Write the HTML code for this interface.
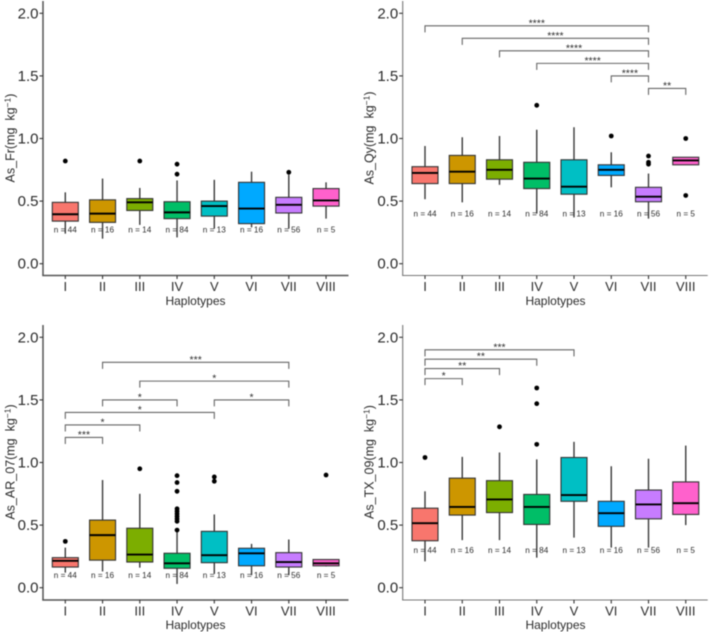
<!DOCTYPE html>
<html>
<head>
<meta charset="utf-8">
<style>
html,body{margin:0;padding:0;background:#fff;}
svg{display:block;filter:blur(0.5px);}
text{font-family:"Liberation Sans",sans-serif;fill:#2b2b2b;}
</style>
</head>
<body>
<svg id="chart" width="709" height="632" viewBox="0 0 709 632" xmlns="http://www.w3.org/2000/svg">
  <rect x="0" y="0" width="709" height="632" fill="#fff"/>
  <g id="panel-fr"></g>
  <g id="panel-qy"></g>
  <g id="panel-ar"></g>
  <g id="panel-tx"></g>

  <text transform="translate(14.5,138) rotate(-90)" text-anchor="middle" font-size="12.5">As_Fr(mg&#160;&#160;kg<tspan dy="-4" font-size="8.5">−1</tspan><tspan dy="4">)</tspan></text>
  <text transform="translate(373.5,138) rotate(-90)" text-anchor="middle" font-size="12.5">As_Qy(mg&#160;&#160;kg<tspan dy="-4" font-size="8.5">−1</tspan><tspan dy="4">)</tspan></text>
  <text transform="translate(14.5,462) rotate(-90)" text-anchor="middle" font-size="12.5">As_AR_07(mg&#160;&#160;kg<tspan dy="-4" font-size="8.5">−1</tspan><tspan dy="4">)</tspan></text>
  <text transform="translate(373.5,462) rotate(-90)" text-anchor="middle" font-size="12.5">As_TX_09(mg&#160;&#160;kg<tspan dy="-4" font-size="8.5">−1</tspan><tspan dy="4">)</tspan></text>

  <text x="195.5" y="305" text-anchor="middle" font-size="12">Haplotypes</text>
  <text x="555.5" y="305" text-anchor="middle" font-size="12">Haplotypes</text>
  <text x="195.5" y="629" text-anchor="middle" font-size="12">Haplotypes</text>
  <text x="555.5" y="629" text-anchor="middle" font-size="12">Haplotypes</text>
</svg>
<script>
const categories = ['I','II','III','IV','V','VI','VII','VIII'];
const counts = ['n = 44','n = 16','n = 14','n = 84','n = 13','n = 16','n = 56','n = 5'];
const yTicks = [0, 0.5, 1, 1.5, 2];
const yTickLabels = ['0.0','0.5','1.0','1.5','2.0'];
const fills = ['#F8766D','#CD9600','#7CAE00','#00BE67','#00BFC4','#00A9FF','#C77CFF','#FF61CC'];

const frLow = [0.24,0.20,0.31,0.21,0.28,0.29,0.28,0.36];
const frQ1 = [0.34,0.33,0.425,0.36,0.38,0.32,0.405,0.46];
const frMedian = [0.395,0.40,0.49,0.41,0.46,0.44,0.47,0.505];
const frQ3 = [0.49,0.51,0.52,0.495,0.50,0.65,0.53,0.60];
const frHigh = [0.57,0.68,0.605,0.665,0.67,0.735,0.71,0.65];
const frOutliers = [[0.82],[],[0.82],[0.795,0.715],[],[],[0.73],[]];
const frBracketFrom = [];
const frBracketTo = [];
const frBracketLevel = [];
const frBracketLabel = [];

const qyLow = [0.515,0.49,0.63,0.40,0.37,0.61,0.36,0.79];
const qyQ1 = [0.64,0.64,0.675,0.60,0.555,0.705,0.495,0.79];
const qyMedian = [0.725,0.735,0.75,0.68,0.615,0.75,0.535,0.825];
const qyQ3 = [0.775,0.865,0.83,0.81,0.83,0.79,0.61,0.85];
const qyHigh = [0.94,1.01,1.02,1.07,1.09,0.89,0.72,0.85];
const qyOutliers = [[],[],[],[1.265],[],[1.02],[0.86,0.81,0.795],[1.0,0.545]];
const qyBracketFrom = [0,1,2,3,5,6];
const qyBracketTo = [6,6,6,6,6,7];
const qyBracketLevel = [1.90,1.80,1.70,1.60,1.50,1.40];
const qyBracketLabel = ['****','****','****','****','****','**'];

const arLow = [0.12,0.13,0.16,0.03,0.11,0.10,0.10,0.17];
const arQ1 = [0.165,0.22,0.205,0.155,0.20,0.175,0.165,0.175];
const arMedian = [0.215,0.42,0.265,0.195,0.26,0.275,0.205,0.195];
const arQ3 = [0.24,0.54,0.475,0.275,0.45,0.315,0.28,0.225];
const arHigh = [0.32,0.86,0.75,0.46,0.585,0.35,0.385,0.225];
const arOutliers = [[0.37],[],[0.95],[0.46,0.53,0.55,0.57,0.59,0.61,0.63,0.77,0.84,0.895],[0.85,0.885],[],[],[0.90]];
const arBracketFrom = [0,0,0,1,4,2,1];
const arBracketTo = [1,2,4,3,6,6,6];
const arBracketLevel = [1.20,1.30,1.40,1.50,1.50,1.65,1.80];
const arBracketLabel = ['***','*','*','*','*','*','***'];

const txLow = [0.21,0.38,0.38,0.24,0.40,0.32,0.32,0.50];
const txQ1 = [0.375,0.58,0.60,0.505,0.69,0.49,0.55,0.585];
const txMedian = [0.515,0.645,0.705,0.645,0.74,0.595,0.665,0.675];
const txQ3 = [0.635,0.875,0.855,0.745,1.04,0.69,0.78,0.845];
const txHigh = [0.77,1.045,1.08,1.025,1.165,0.97,1.03,1.135];
const txOutliers = [[1.04],[],[1.285],[1.145,1.47,1.595],[],[],[],[]];
const txBracketFrom = [0,0,0,0];
const txBracketTo = [4,3,2,1];
const txBracketLevel = [1.90,1.825,1.75,1.67];
const txBracketLabel = ['***','**','**','*'];

const SVGNS = 'http://www.w3.org/2000/svg';
function make(parent, tag, attrs, txt) {
  const n = document.createElementNS(SVGNS, tag);
  for (const k in attrs) n.setAttribute(k, attrs[k]);
  if (txt !== undefined) n.textContent = txt;
  parent.appendChild(n);
  return n;
}

function drawPanel(opt) {
  const g = document.getElementById(opt.id);
  const xOf = i => opt.x0 + i * opt.step;
  const yOf = v => opt.y0 - v * opt.unit;
  const axisColor = opt.axisColor;
  const axisWidth = opt.axisWidth;

  const yAxis = make(g, 'line', {x1:opt.axisX, x2:opt.axisX, y1:opt.top, y2:opt.bottom, stroke:axisColor, 'stroke-width':axisWidth});
  
  
  const xAxis = make(g, 'line', {x1:opt.axisX - axisWidth/2, x2:opt.right, y1:opt.bottom, y2:opt.bottom, stroke:axisColor, 'stroke-width':axisWidth});
  
  

  yTicks.forEach((v, i) => {
    const tick = make(g, 'line', {x1:opt.axisX - 3.5, x2:opt.axisX, y1:yOf(v), y2:yOf(v), stroke:'#333', 'stroke-width':1.1});
    
    
    const label = make(g, 'text', {x:opt.axisX - 4.5, y:yOf(v) + 5, 'text-anchor':'end', 'font-size':15}, yTickLabels[i]);
    
    
  });

  categories.forEach((c, i) => {
    const cx = xOf(i);
    const tick = make(g, 'line', {x1:cx, x2:cx, y1:opt.bottom, y2:opt.bottom + 3.5, stroke:'#333', 'stroke-width':1.1});
    
    
    const label = make(g, 'text', {x:cx, y:opt.bottom + 15.5, 'text-anchor':'middle', 'font-size':13}, c);
    
    

    const whisker = make(g, 'line', {x1:cx, x2:cx, y1:yOf(opt.low[i]), y2:yOf(opt.high[i]), stroke:'#3a3a3a', 'stroke-width':1.4});
    
    

    const box = make(g, 'rect', {x:cx - 13, y:yOf(opt.q3[i]), width:26, height:yOf(opt.q1[i]) - yOf(opt.q3[i]), fill:fills[i], stroke:'#333', 'stroke-width':1.1});
    
    

    const median = make(g, 'line', {x1:cx - 13, x2:cx + 13, y1:yOf(opt.median[i]), y2:yOf(opt.median[i]), stroke:'#000', 'stroke-width':1.9});
    
    

    opt.outliers[i].forEach(v => {
      const dot = make(g, 'circle', {cx:cx, cy:yOf(v), r:2.4, fill:'#000'});
      
      
    });

    const count = make(g, 'text', {x:cx, y:yOf(opt.countLevel) + 3, 'text-anchor':'middle', 'font-size':8.2}, counts[i]);
    
    
  });

  opt.bFrom.forEach((from, i) => {
    const x1 = xOf(from), x2 = xOf(opt.bTo[i]), ly = yOf(opt.bLevel[i]);
    const drop = 6.5;
    const bracket = make(g, 'path', {d:'M' + x1 + ' ' + (ly + drop) + 'V' + ly + 'H' + x2 + 'V' + (ly + drop), fill:'none', stroke:'#666', 'stroke-width':1.1});
    
    
    const stars = make(g, 'text', {x:(x1 + x2) / 2, y:ly + 0.5, 'text-anchor':'middle', 'font-size':10.5}, opt.bLabel[i]);
    
    
  });
}

drawPanel({id:'panel-fr', x0:65.3, step:37.25, y0:263.7, unit:125.2, axisX:43, top:1, bottom:275.5, right:348.5, axisColor:'#555', axisWidth:1.5, countLevel:0.274,
  low:frLow, q1:frQ1, median:frMedian, q3:frQ3, high:frHigh, outliers:frOutliers, bFrom:frBracketFrom, bTo:frBracketTo, bLevel:frBracketLevel, bLabel:frBracketLabel});
drawPanel({id:'panel-qy', x0:425, step:37.25, y0:263.7, unit:125.2, axisX:402.7, top:1, bottom:275.5, right:707.7, axisColor:'#777', axisWidth:1.1, countLevel:0.40,
  low:qyLow, q1:qyQ1, median:qyMedian, q3:qyQ3, high:qyHigh, outliers:qyOutliers, bFrom:qyBracketFrom, bTo:qyBracketTo, bLevel:qyBracketLevel, bLabel:qyBracketLabel});
drawPanel({id:'panel-ar', x0:65.3, step:37.25, y0:587.7, unit:125.2, axisX:43, top:325, bottom:600, right:348.5, axisColor:'#555', axisWidth:1.5, countLevel:0.10,
  low:arLow, q1:arQ1, median:arMedian, q3:arQ3, high:arHigh, outliers:arOutliers, bFrom:arBracketFrom, bTo:arBracketTo, bLevel:arBracketLevel, bLabel:arBracketLabel});
drawPanel({id:'panel-tx', x0:425, step:37.25, y0:587.7, unit:125.2, axisX:402.7, top:325, bottom:600, right:707.7, axisColor:'#777', axisWidth:1.1, countLevel:0.30,
  low:txLow, q1:txQ1, median:txMedian, q3:txQ3, high:txHigh, outliers:txOutliers, bFrom:txBracketFrom, bTo:txBracketTo, bLevel:txBracketLevel, bLabel:txBracketLabel});
</script>
</body>
</html>
